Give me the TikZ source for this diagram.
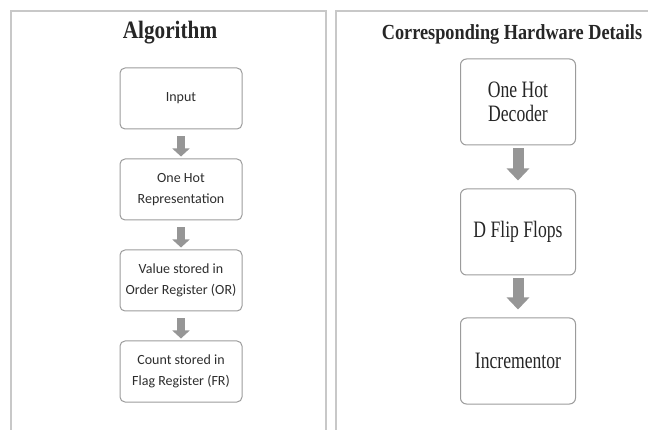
\documentclass[tikz,border=0pt]{standalone}
\usepackage{fontspec}
\usetikzlibrary{arrows.meta,positioning}
\newfontfamily\titlefont[FakeStretch=0.85]{Liberation Serif}
\newfontfamily\hwfont[FakeStretch=0.75]{Liberation Serif}
\newfontfamily\stepfont{Carlito}
\definecolor{panelgray}{RGB}{200,200,200}
\definecolor{boxgray}{RGB}{155,155,155}
\definecolor{arrowgray}{RGB}{150,150,150}
\definecolor{textgray}{RGB}{45,45,45}

\begin{document}
\begin{tikzpicture}[
    x=1pt, y=1pt,
    panel/.style={draw=panelgray, line width=1.5pt},
    heading/.style={anchor=base, font=\titlefont\bfseries\fontsize{#1}{#1}\selectfont, text=black!85},
    algbox/.style={draw=boxgray, line width=1pt, rounded corners=5pt, minimum width=122pt, minimum height=61pt, align=center, inner sep=2pt, font=\stepfont\fontsize{14}{21}\selectfont, text=textgray},
    hwbox/.style={draw=boxgray, line width=1pt, rounded corners=6pt, minimum width=115pt, minimum height=86pt, align=center, inner sep=2pt, font=\hwfont\fontsize{23.5}{24}\selectfont, text=black!85},
    flow/.style={-{Triangle[width=17pt,length=8pt]}, line width=8pt, draw=arrowgray, shorten <=7pt, shorten >=2pt},
    bigflow/.style={-{Triangle[width=22pt,length=12pt]}, line width=11pt, draw=arrowgray, shorten <=3pt, shorten >=8pt},
]
    \useasboundingbox (0,0) rectangle (648,-430);

    % the two panels (open at the bottom)
    \draw[panel] (11,-445) -- (11,-11) -- (326,-11) -- (326,-445);
    \draw[panel] (336,-445) -- (336,-11) -- (660,-11);

    \node[heading=25] (algtitle) at (170,-39) {Algorithm};
    \node[heading=21.5] (hwtitle) at (512,-40) {Corresponding Hardware Details};

    % algorithm steps
    \node[algbox] (input) at (181,-98.5) {Input};
    \node[algbox, below=29pt of input] (onehot) {One Hot\\Representation};
    \node[algbox, below=29pt of onehot] (orreg) {Value stored in\\Order Register (OR)};
    \node[algbox, below=29pt of orreg] (frreg) {Count stored in\\Flag Register (FR)};

    \draw[flow] (input) -- (onehot);
    \draw[flow] (onehot) -- (orreg);
    \draw[flow] (orreg) -- (frreg);

    % hardware blocks
    \node[hwbox] (decoder) at (518,-102) {One Hot\\Decoder};
    \node[hwbox, below=43pt of decoder] (dff) {D Flip Flops};
    \node[hwbox, below=42pt of dff] (incr) {Incrementor};

    \draw[bigflow] (decoder) -- (dff);
    \draw[bigflow] (dff) -- (incr);

\end{tikzpicture}
\end{document}
